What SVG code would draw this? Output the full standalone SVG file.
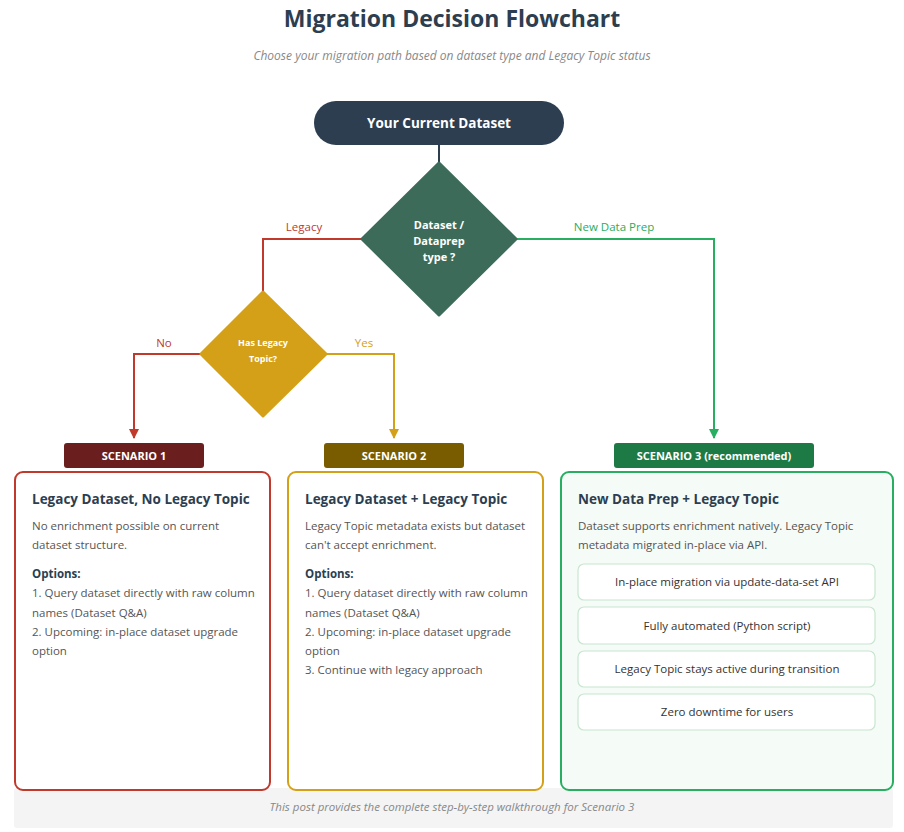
<svg xmlns="http://www.w3.org/2000/svg" width="904" height="832" viewBox="0 0 904 832">
<defs>
<style>
text{font-family:"Open Sans","Noto Sans","Liberation Sans",sans-serif}
.h{font-size:13.5px;font-weight:bold;fill:#2c3e50}
.b{font-size:11.5px;fill:#555}
.ob{font-size:11.5px;font-weight:bold;fill:#2c3e50}
.badge{font-size:11px;font-weight:bold;fill:#fff}
.lbl{font-size:11.5px}
.item{fill:#fff;stroke:#c8e6d0;stroke-width:1.2}
.it{font-size:11.5px;fill:#333}
</style>
<marker id="ar" viewBox="0 0 10 10" refX="9" refY="5" markerWidth="8" markerHeight="8" markerUnits="userSpaceOnUse" orient="auto"><path d="M0,0 L10,5 L0,10z" fill="context-stroke"/></marker>
<marker id="arR" viewBox="0 0 10 10" refX="9" refY="5" markerWidth="10" markerHeight="10" markerUnits="userSpaceOnUse" orient="auto"><path d="M0,0 L10,5 L0,10z" fill="#c0392b"/></marker>
<marker id="arY" viewBox="0 0 10 10" refX="9" refY="5" markerWidth="10" markerHeight="10" markerUnits="userSpaceOnUse" orient="auto"><path d="M0,0 L10,5 L0,10z" fill="#d4a017"/></marker>
<marker id="arG" viewBox="0 0 10 10" refX="9" refY="5" markerWidth="10" markerHeight="10" markerUnits="userSpaceOnUse" orient="auto"><path d="M0,0 L10,5 L0,10z" fill="#27ae60"/></marker>
</defs>
<rect width="904" height="832" fill="#fff"/>
<text x="452" y="27" text-anchor="middle" style="font-size:23px;font-weight:bold;fill:#2c3e50">Migration Decision Flowchart</text>
<text x="452" y="60" text-anchor="middle" style="font-size:12px;font-style:italic;fill:#888">Choose your migration path based on dataset type and Legacy Topic status</text>

<g id="connectors" fill="none" stroke-width="2">
<line x1="439" y1="145" x2="439" y2="164" stroke="#2c3e50"/>
<polyline points="362,239 263,239 263,293" stroke="#c0392b"/>
<polyline points="516,239 714,239 714,438" stroke="#27ae60" marker-end="url(#arG)"/>
<polyline points="201,354 134,354 134,438" stroke="#c0392b" marker-end="url(#arR)"/>
<polyline points="326,354 394,354 394,438" stroke="#d4a017" marker-end="url(#arY)"/>
<text x="304" y="231" text-anchor="middle" class="lbl" fill="#c0392b" stroke="none">Legacy</text>
<text x="614" y="231" text-anchor="middle" class="lbl" fill="#27ae60" stroke="none">New Data Prep</text>
<text x="164" y="347" text-anchor="middle" class="lbl" fill="#c0392b" stroke="none">No</text>
<text x="364" y="347" text-anchor="middle" class="lbl" fill="#d4a017" stroke="none">Yes</text>
</g>

<g id="start">
<rect x="314" y="101" width="250" height="44" rx="22" fill="#2c3e50"/>
<text x="439" y="128" text-anchor="middle" style="font-size:13.5px;font-weight:bold;fill:#fff">Your Current Dataset</text>
</g>
<g id="decision1">
<polygon points="439,163 516,239 439,315 362,239" fill="#3d6b5a" stroke="#3d6b5a" stroke-width="3" stroke-linejoin="round"/>
<text text-anchor="middle" style="font-size:11px;font-weight:bold;fill:#fff"><tspan x="439" y="229">Dataset /</tspan><tspan x="439" y="245">Dataprep</tspan><tspan x="439" y="261">type ?</tspan></text>
</g>
<g id="decision2">
<polygon points="263,292 326,354 263,416 201,354" fill="#d4a017" stroke="#d4a017" stroke-width="3" stroke-linejoin="round"/>
<text text-anchor="middle" style="font-size:9px;font-weight:bold;fill:#fff"><tspan x="263" y="346">Has Legacy</tspan><tspan x="263" y="362">Topic?</tspan></text>
</g>

<g id="footer">
<rect x="14" y="788" width="879" height="40" rx="3" fill="#f4f4f4"/>
<text x="452" y="811" text-anchor="middle" style="font-size:11.5px;font-style:italic;fill:#888">This post provides the complete step-by-step walkthrough for Scenario 3</text>
</g>

<g id="scenario1">
<rect x="64" y="443" width="140" height="25" rx="3" fill="#6b1e1e"/>
<text x="134" y="460" text-anchor="middle" class="badge">SCENARIO 1</text>
<rect x="15" y="472" width="255" height="318" rx="8" fill="#fff" stroke="#c0392b" stroke-width="2"/>
<text x="32" y="504" class="h">Legacy Dataset, No Legacy Topic</text>
<text class="b"><tspan x="32" y="530">No enrichment possible on current</tspan><tspan x="32" y="549">dataset structure.</tspan></text>
<text x="32" y="578" class="ob">Options:</text>
<text class="b"><tspan x="32" y="597">1. Query dataset directly with raw column</tspan><tspan x="32" y="617">names (Dataset Q&amp;A)</tspan><tspan x="32" y="636">2. Upcoming: in-place dataset upgrade</tspan><tspan x="32" y="655">option</tspan></text>
</g>

<g id="scenario2">
<rect x="324" y="443" width="140" height="25" rx="3" fill="#7a5c00"/>
<text x="394" y="460" text-anchor="middle" class="badge">SCENARIO 2</text>
<rect x="288" y="472" width="255" height="318" rx="8" fill="#fff" stroke="#d4a017" stroke-width="2"/>
<text x="305" y="504" class="h">Legacy Dataset + Legacy Topic</text>
<text class="b"><tspan x="305" y="530">Legacy Topic metadata exists but dataset</tspan><tspan x="305" y="549">can't accept enrichment.</tspan></text>
<text x="305" y="578" class="ob">Options:</text>
<text class="b"><tspan x="305" y="597">1. Query dataset directly with raw column</tspan><tspan x="305" y="617">names (Dataset Q&amp;A)</tspan><tspan x="305" y="636">2. Upcoming: in-place dataset upgrade</tspan><tspan x="305" y="655">option</tspan><tspan x="305" y="674">3. Continue with legacy approach</tspan></text>
</g>

<g id="scenario3">
<rect x="614" y="443" width="200" height="25" rx="3" fill="#1e7a45"/>
<text x="714" y="460" text-anchor="middle" class="badge">SCENARIO 3 (recommended)</text>
<rect x="561" y="472" width="332" height="318" rx="8" fill="#f5fbf7" stroke="#27ae60" stroke-width="2"/>
<text x="578" y="504" class="h">New Data Prep + Legacy Topic</text>
<text class="b"><tspan x="578" y="530">Dataset supports enrichment natively. Legacy Topic</tspan><tspan x="578" y="549">metadata migrated in-place via API.</tspan></text>
<rect x="578" y="564" width="297" height="36" rx="6" class="item"/>
<text x="727" y="586" text-anchor="middle" class="it">In-place migration via update-data-set API</text>
<rect x="578" y="607" width="297" height="37" rx="6" class="item"/>
<text x="727" y="630" text-anchor="middle" class="it">Fully automated (Python script)</text>
<rect x="578" y="651" width="297" height="36" rx="6" class="item"/>
<text x="727" y="673" text-anchor="middle" class="it">Legacy Topic stays active during transition</text>
<rect x="578" y="694" width="297" height="36" rx="6" class="item"/>
<text x="727" y="716" text-anchor="middle" class="it">Zero downtime for users</text>
</g>
</svg>
